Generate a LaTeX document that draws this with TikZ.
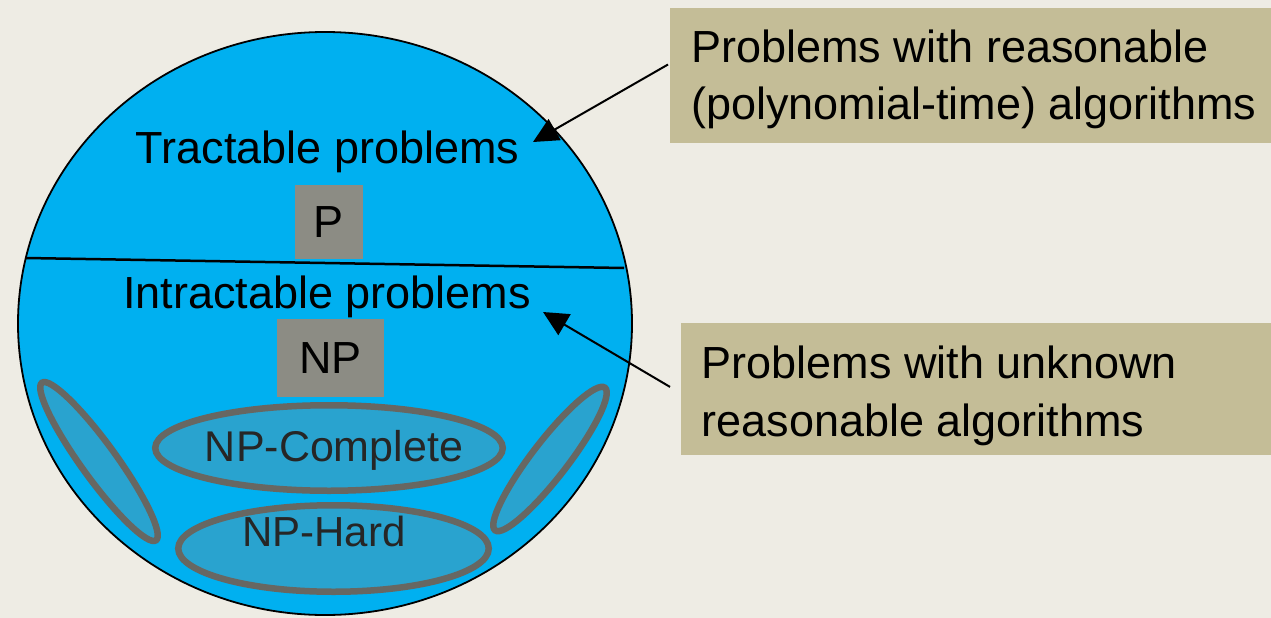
\documentclass[tikz,border=0pt]{standalone}
\usepackage{fontspec}
\setmainfont{Liberation Sans}
\usetikzlibrary{shapes.geometric,arrows.meta}
\definecolor{paper}{RGB}{238,236,228}
\definecolor{sky}{RGB}{0,176,240}
\definecolor{subset}{RGB}{41,163,207}
\definecolor{rim}{RGB}{103,103,98}
\definecolor{classbox}{RGB}{140,140,132}
\definecolor{notebox}{RGB}{196,189,151}
\definecolor{darktext}{RGB}{38,38,38}

% two-line note text, lowered by #1 inside its box
\newcommand{\notetext}[3]{\raisebox{-#1}[\height][\depth]{\parbox{580pt}{\fontsize{45pt}{#2}\selectfont #3}}}

\begin{document}
\begin{tikzpicture}[x=1pt,y=-1pt,
  big/.style={font=\fontsize{45pt}{57pt}\selectfont},
  classlabel/.style={fill=classbox, inner sep=0pt, big},
  subsetshape/.style={ellipse, draw=rim, line width=6.5pt, fill=subset, inner sep=0pt},
  subsettext/.style={text=darktext, anchor=base},
  note/.style={fill=notebox, inner ysep=0pt, anchor=north west},
  pointer/.style={line width=2pt, -{Triangle[length=25pt,width=24pt]}}]

% page
\fill[paper] (0,0) rectangle (1271,618);
\useasboundingbox (0,0) rectangle (1271,618);

% the space of problems
\node[ellipse, draw, line width=1.8pt, fill=sky, minimum width=614pt,
      minimum height=583pt, inner sep=0pt] (world) at (325,323.5) {};
\draw[line width=2.5pt] (26,258) -- (624,268);

\node[big, anchor=base] (tract) at (327.5,163) {Tractable problems};
\node[big, anchor=base] (intract) at (327,308) {Intractable problems};

% complexity classes
\node[classlabel, minimum width=68pt, minimum height=74pt] (P) at (329,222) {P};
\node[classlabel, minimum width=107pt, minimum height=78pt] (NP) at (330.5,358) {NP};

\node[subsetshape, minimum width=347.5pt, minimum height=85.5pt] (npc) at (329,448) {};
\node[subsettext, font=\fontsize{43pt}{50pt}\selectfont] (npctext) at (334,461) {NP-Complete};
\node[subsetshape, minimum width=310.5pt, minimum height=86.5pt] (nph) at (333.5,548.5) {};
\node[subsettext, font=\fontsize{42pt}{50pt}\selectfont] (nphtext) at (324,546) {NP-Hard};
\node[subsetshape, minimum width=194.5pt, minimum height=35pt, rotate=-54.1] (leftset) at (99,461.5) {};
\node[subsetshape, minimum width=180pt, minimum height=36pt, rotate=52.4] (rightset) at (550,459) {};

% explanatory notes
\node[note, inner xsep=21pt, minimum height=135pt] (note1) at (670,8)
  {\notetext{4pt}{57pt}{Problems with reasonable\\(polynomial-time) algorithms}};
\node[note, inner xsep=20.6pt, minimum height=132pt] (note2) at (681,323)
  {\notetext{7pt}{58pt}{Problems with unknown\\reasonable algorithms}};

\coordinate (tip1) at (533,142);
\coordinate (tip2) at (543,312);
\draw[pointer] ([xshift=-2pt, yshift=11.2pt]note1.west) -- (tip1);
\draw[pointer] ([xshift=-11pt, yshift=2.3pt]note2.west) -- (tip2);
\end{tikzpicture}
\end{document}
